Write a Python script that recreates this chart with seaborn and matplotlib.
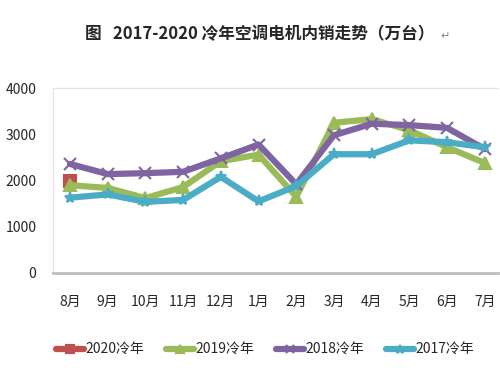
import matplotlib
matplotlib.use("Agg")
import matplotlib.pyplot as plt
import seaborn as sns
import pandas as pd

# months of the cold year (Aug -> Jul)
months = ["8月", "9月", "10月", "11月", "12月", "1月", "2月", "3月", "4月", "5月", "6月", "7月"]
y2020 = [1980]
y2019 = [1900, 1840, 1620, 1860, 2420, 2560, 1650, 3250, 3330, 3090, 2720, 2380]
y2018 = [2360, 2140, 2160, 2190, 2480, 2780, 1920, 2980, 3230, 3200, 3140, 2680]
y2017 = [1630, 1700, 1540, 1580, 2080, 1550, 1880, 2570, 2570, 2870, 2830, 2720]

series = {"2020冷年": y2020, "2019冷年": y2019, "2018冷年": y2018, "2017冷年": y2017}
palette = {"2020冷年": "#C0504D", "2019冷年": "#9BBB59", "2018冷年": "#8064A2", "2017冷年": "#4BACC6"}
markers = {"2020冷年": "s", "2019冷年": "^", "2018冷年": "x", "2017冷年": "*"}

sns.set_style("white")
plt.rcParams["font.family"] = ["Noto Sans CJK SC", "DejaVu Sans"]

fig = plt.figure(figsize=(5, 3.75), dpi=100)
ax = fig.add_axes([0.106, 0.272, 0.89, 0.493])

for name, vals in series.items():
    df = pd.DataFrame({"月份": months[:len(vals)], "销量": vals})
    sns.lineplot(data=df, x="月份", y="销量", color=palette[name], marker=markers[name],
                 linewidth=4.5, markersize=8, markeredgewidth=1.5,
                 markeredgecolor=palette[name], label=name, ax=ax, sort=False)

ax.set_xticks(range(len(months)))
ax.set_xticklabels(months)
ax.set_xlim(-0.45, 11.35)
ax.set_ylim(0, 4000)
ax.set_yticks([0, 1000, 2000, 3000, 4000])
ax.set_xlabel("")
ax.set_ylabel("")
ax.tick_params(axis="both", labelsize=10, length=0)
ax.tick_params(axis="x", pad=16)
ax.tick_params(axis="y", pad=12)
for s in ["left", "top"]:
    ax.spines[s].set_color("#e4e4e4")
    ax.spines[s].set_linewidth(1)
ax.spines["right"].set_visible(False)
ax.spines["bottom"].set_color("#bdbdbd")
ax.spines["bottom"].set_linewidth(2)

handles, labels = ax.get_legend_handles_labels()
ax.legend_.remove()
fig.legend(handles, labels, loc="center", bbox_to_anchor=(0.53, 0.067), ncol=4,
           frameon=False, fontsize=10, handlelength=2.0, columnspacing=1.6,
           handletextpad=0.1, markerscale=0.8)

fig.text(0.52, 0.91, "图   2017-2020 冷年空调电机内销走势（万台）", ha="center",
         va="center", fontsize=12, fontweight="bold")
fig.text(0.88, 0.905, "↵", ha="left", va="center", fontsize=8, color="#888888")

fig.savefig("out.png", dpi=100)
